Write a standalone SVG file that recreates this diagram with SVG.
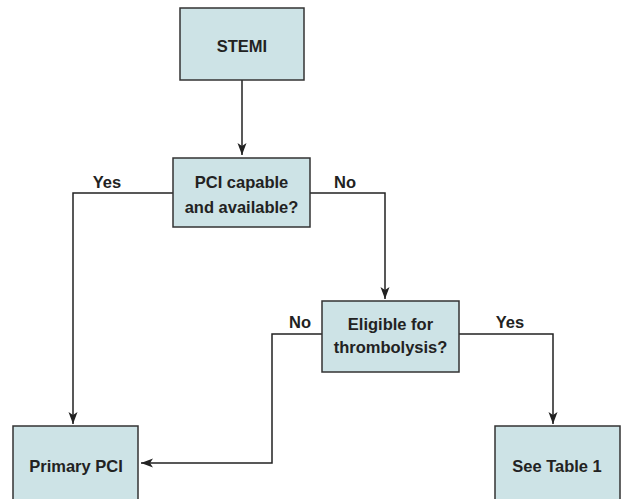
<svg xmlns="http://www.w3.org/2000/svg" width="628" height="499" viewBox="0 0 628 499">
<style>
.box{fill:#cde3e6;stroke:#333;stroke-width:1.5}
.t{font-family:"Liberation Sans",Arial,sans-serif;font-weight:bold;font-size:16.5px;fill:#222;text-anchor:middle}
.c{fill:none;stroke:#222;stroke-width:1.5}
</style>
<defs>
<marker id="ah" viewBox="0 0 12 10" refX="12" refY="5" markerWidth="12" markerHeight="10" markerUnits="userSpaceOnUse" orient="auto">
<path d="M0,0.5 L12,5 L0,9.5 L3,5 Z" fill="#222"/>
</marker>
</defs>
<rect width="628" height="499" fill="#fff"/>
<g id="connectors">
<path class="c" d="M242,80 V155" marker-end="url(#ah)"/>
<path class="c" d="M173,193 H73 V424" marker-end="url(#ah)"/>
<path class="c" d="M310,193 H385 V299" marker-end="url(#ah)"/>
<path class="c" d="M322,334 H272 V463 H141" marker-end="url(#ah)"/>
<path class="c" d="M459,334 H553 V424" marker-end="url(#ah)"/>
<text class="t" x="107" y="188">Yes</text>
<text class="t" x="345" y="188">No</text>
<text class="t" x="300" y="328">No</text>
<text class="t" x="510" y="328">Yes</text>
</g>
<g id="stemi">
<rect class="box" x="180" y="8" width="124" height="72"/>
<text class="t" x="242" y="52">STEMI</text>
</g>
<g id="pci">
<rect class="box" x="173" y="158" width="137" height="69"/>
<text class="t" x="241.5" y="188">PCI capable</text>
<text class="t" x="241.5" y="213">and available?</text>
</g>
<g id="eligible">
<rect class="box" x="322" y="301" width="137" height="71"/>
<text class="t" x="390.5" y="330">Eligible for</text>
<text class="t" x="390.5" y="353">thrombolysis?</text>
</g>
<g id="primary">
<rect class="box" x="13" y="426" width="125" height="80"/>
<text class="t" x="76" y="472">Primary PCI</text>
</g>
<g id="table">
<rect class="box" x="495" y="426" width="125" height="80"/>
<text class="t" x="557" y="472">See Table 1</text>
</g>
</svg>
